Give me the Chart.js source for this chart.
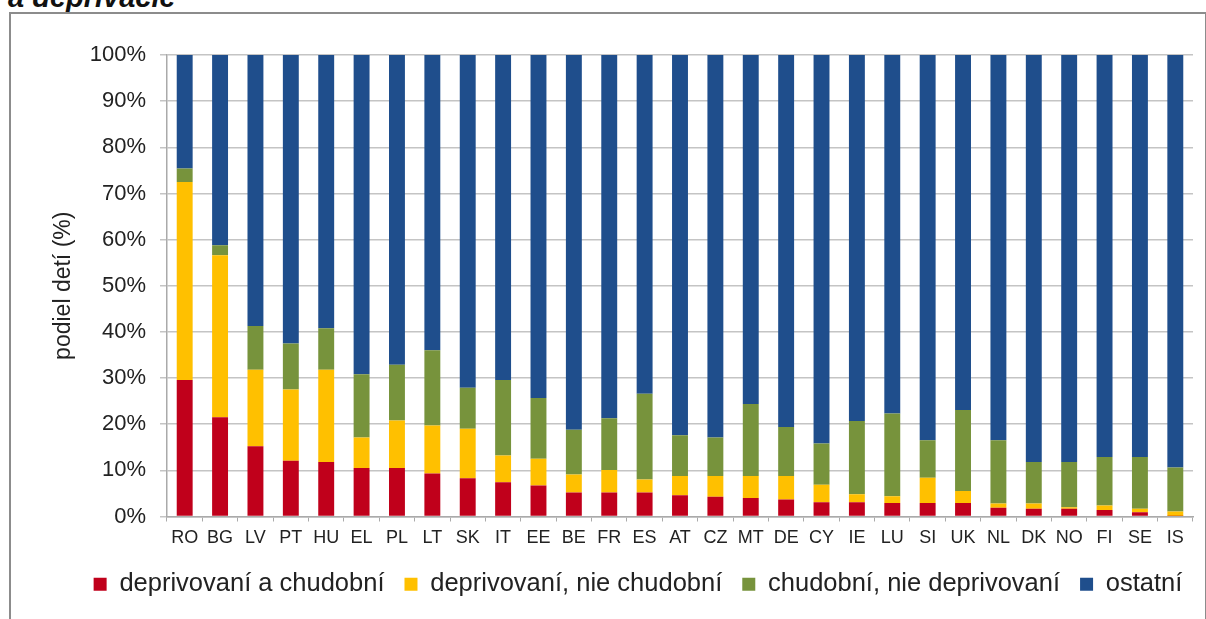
<!DOCTYPE html>
<html>
<head>
<meta charset="utf-8">
<script src="https://cdn.jsdelivr.net/npm/chart.js@4.4.1/dist/chart.umd.min.js"></script>
<style>
  html, body { margin: 0; padding: 0; background: #fff; overflow: hidden; }
  body { width: 1206px; height: 619px; position: relative; font-family: 'Liberation Sans', Arial, sans-serif; }
  #title { position: absolute; left: 8px; top: -17px; font-size: 29px; line-height: 28px; font-weight: bold; font-style: italic; color: #111; white-space: nowrap; }
  #frame { position: absolute; left: 9px; top: 12px; width: 1194px; height: 620px; border: 2px solid #8c8c8c; border-bottom: none; }
  #wrap { position: absolute; left: 11px; top: 14px; width: 1192px; height: 605px; }
</style>
</head>
<body>
<div id="title">a deprivácie</div>
<div id="frame"></div>
<div id="wrap"><canvas id="chart"></canvas></div>
<script>
// countries, ordered as in the source figure
const countries = ['RO','BG','LV','PT','HU','EL','PL','LT','SK','IT','EE','BE','FR','ES','AT','CZ','MT','DE','CY','IE','LU','SI','UK','NL','DK','NO','FI','SE','IS'];

// shares of children (%)
const deprivedPoor    = [29.6,21.5,15.2,12.1,11.8,10.5,10.5,9.3,8.3,7.4,6.7,5.2,5.2,5.2,4.6,4.3,4.0,3.7,3.1,3.1,2.9,2.9,2.9,1.9,1.7,1.7,1.4,0.9,0.1];
const deprivedNotPoor = [42.9,35.1,16.6,15.4,20.0,6.6,10.3,10.4,10.7,5.8,5.8,3.9,4.9,2.8,4.2,4.5,4.8,5.1,3.8,1.7,1.5,5.5,2.6,0.9,1.1,0.3,1.0,0.8,1.0];
const poorNotDeprived = [2.9,2.2,9.5,10.0,9.0,13.7,12.1,16.3,8.9,16.4,13.2,9.7,11.2,18.6,8.8,8.3,15.6,10.6,8.9,15.9,17.9,8.1,17.6,13.7,9.0,9.8,10.5,11.2,9.5];
const others          = [24.6,41.2,58.7,62.5,59.2,69.2,67.1,64.0,72.1,70.4,74.3,81.2,78.7,73.4,82.4,82.9,75.6,80.6,84.2,79.3,77.7,83.5,76.9,83.5,88.2,88.2,87.1,87.1,89.4];

const seriesNames = ['deprivovaní a chudobní', 'deprivovaní, nie chudobní', 'chudobní, nie deprivovaní', 'ostatní'];
const colors = ['#C0001B', '#FFC000', '#77933C', '#1F4E8C'];

const FONT = "'Liberation Sans', Arial, sans-serif";
const TXT = '#222';

const datasets = [deprivedPoor, deprivedNotPoor, poorNotDeprived, others].map((vals, i) => ({
  label: seriesNames[i],
  data: vals,
  backgroundColor: colors[i],
  borderWidth: 0,
  categoryPercentage: 1,
  barPercentage: 0.45
}));

// the legend in the original sits a bit right of centre
const legendShift = {
  id: 'legendShift',
  afterLayout(chart) {
    chart.legend.left += 36;
    chart.legend.right += 36;
  }
};

new Chart(document.getElementById('chart').getContext('2d'), {
  type: 'bar',
  data: { labels: countries, datasets },
  plugins: [legendShift],
  options: {
    responsive: true,
    maintainAspectRatio: false,
    animation: false,
    layout: { padding: { left: 0, right: 10, top: 41, bottom: 12 } },
    plugins: {
      tooltip: { enabled: false },
      legend: {
        position: 'bottom',
        labels: {
          color: TXT,
          font: { family: FONT, size: 25.5 },
          boxWidth: 13,
          boxHeight: 13,
          padding: 20
        }
      }
    },
    scales: {
      x: {
        stacked: true,
        afterFit: s => { s.height = 35; },
        grid: { drawOnChartArea: false, drawTicks: true, tickLength: 5, color: '#aaa', offset: true },
        border: { color: '#aaa', width: 1.5 },
        ticks: { color: TXT, font: { family: FONT, size: 18 }, padding: 6, maxRotation: 0, autoSkip: false }
      },
      y: {
        stacked: true,
        min: 0,
        max: 100,
        afterFit: s => { s.width = 156; },
        grid: { color: '#c4c4c4', lineWidth: 1.5, tickLength: 7 },
        border: { color: '#aaa', width: 1.5 },
        ticks: { stepSize: 10, color: TXT, font: { family: FONT, size: 22 }, padding: 14, callback: v => v + '%' },
        title: { display: true, text: 'podiel detí (%)', color: TXT, font: { family: FONT, size: 23 }, padding: { top: 39, bottom: 0 } }
      }
    }
  }
});
</script>
</body>
</html>
